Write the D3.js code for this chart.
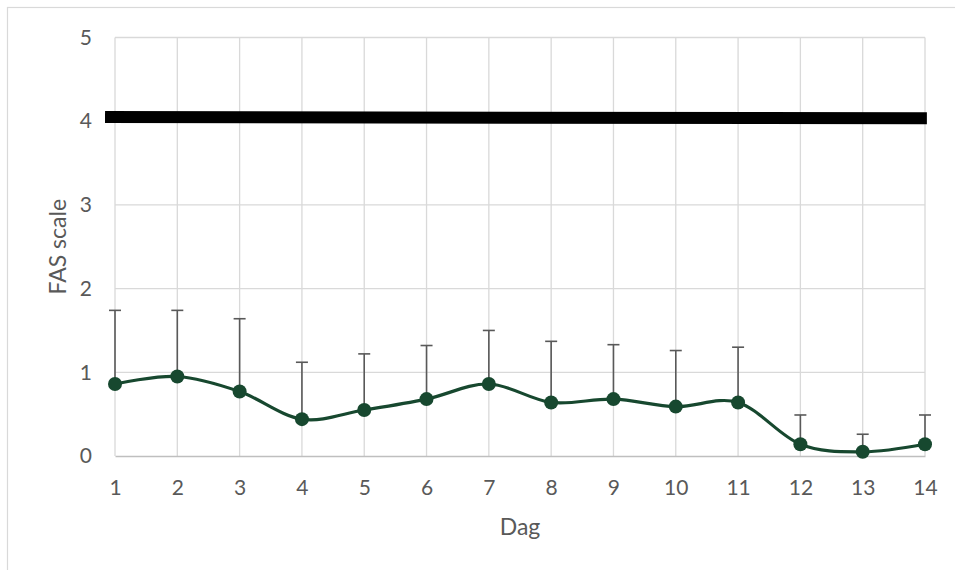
<!DOCTYPE html>
<html>
<head>
<meta charset="utf-8">
<script src="https://cdn.jsdelivr.net/npm/d3@7"></script>
<style>
  html, body { margin: 0; padding: 0; background: #fff; }
  svg { display: block; font-family: "Lato", "Open Sans", sans-serif; }
</style>
</head>
<body>
<svg id="chart" width="955" height="570"></svg>
<script>
// Days on the x axis
const days = [1, 2, 3, 4, 5, 6, 7, 8, 9, 10, 11, 12, 13, 14];
// Mean FAS score per day
const meanFAS = [0.86, 0.95, 0.77, 0.44, 0.55, 0.68, 0.86, 0.64, 0.68, 0.59, 0.64, 0.14, 0.05, 0.14];
// Upper error (mean + SD) per day
const upperFAS = [1.74, 1.74, 1.64, 1.12, 1.22, 1.32, 1.50, 1.37, 1.33, 1.26, 1.30, 0.49, 0.26, 0.49];
// Threshold line: x extent and y values at both ends
const thresholdX = [0.84, 14.03];
const thresholdY = [4.05, 4.035];
// Axis ticks
const yTicks = [0, 1, 2, 3, 4, 5];

const svg = d3.select("#chart");

const x = d3.scaleLinear().domain([1, 14]).range([115, 925]);
const y = d3.scaleLinear().domain([0, 5]).range([456, 37.5]);

// Chart frame
svg.append("rect")
  .attr("x", 7.5).attr("y", 7.5)
  .attr("width", 1000).attr("height", 1000)
  .attr("fill", "none").attr("stroke", "#d9d9d9").attr("stroke-width", 1.2);

const grid = svg.append("g");
// Horizontal gridlines
grid.selectAll("line.h").data(yTicks.filter(d => d > 0)).join("line")
  .attr("x1", x(1)).attr("x2", x(14))
  .attr("y1", d => y(d)).attr("y2", d => y(d))
  .attr("stroke", "#d9d9d9").attr("stroke-width", 1.3);
// Vertical gridlines
grid.selectAll("line.v").data(days).join("line")
  .attr("x1", d => x(d)).attr("x2", d => x(d))
  .attr("y1", y(5)).attr("y2", y(0))
  .attr("stroke", "#d9d9d9").attr("stroke-width", 1.3);

// X axis (baseline + tick labels)
const xAxis = d3.axisBottom(x).tickValues(days).tickSize(0).tickPadding(24).tickFormat(d3.format("d"));
const gx = svg.append("g").attr("transform", `translate(0,${y(0)})`).call(xAxis);
gx.select(".domain").attr("stroke", "#bfbfbf").attr("stroke-width", 1.3);
gx.selectAll("text").attr("fill", "#595959").attr("font-size", 21).attr("font-family", "Lato, sans-serif");

// Y axis labels
const yAxis = d3.axisLeft(y).tickValues(yTicks).tickSize(0).tickPadding(23).tickFormat(d3.format("d"));
const gy = svg.append("g").attr("transform", `translate(${x(1)},0)`).call(yAxis);
gy.select(".domain").remove();
gy.selectAll("text").attr("fill", "#595959").attr("font-size", 21).attr("font-family", "Lato, sans-serif");

// Axis titles
svg.append("text")
  .attr("x", (x(1) + x(14)) / 2).attr("y", 535)
  .attr("text-anchor", "middle").attr("fill", "#595959").attr("font-size", 23)
  .text("Dag");
svg.append("text")
  .attr("transform", `translate(66,${(y(0) + y(5)) / 2}) rotate(-90)`)
  .attr("text-anchor", "middle").attr("fill", "#595959").attr("font-size", 23)
  .text("FAS scale");

// Threshold line
svg.append("line")
  .attr("x1", x(thresholdX[0])).attr("x2", x(thresholdX[1]))
  .attr("y1", y(thresholdY[0])).attr("y2", y(thresholdY[1]))
  .attr("stroke", "#000").attr("stroke-width", 12);

// Error bars (plus direction)
const eb = svg.append("g").attr("stroke", "#595959").attr("stroke-width", 1.6);
eb.selectAll("line.bar").data(days).join("line")
  .attr("x1", d => x(d)).attr("x2", d => x(d))
  .attr("y1", (d, i) => y(meanFAS[i])).attr("y2", (d, i) => y(upperFAS[i]));
eb.selectAll("line.cap").data(days).join("line")
  .attr("x1", d => x(d) - 6).attr("x2", d => x(d) + 6)
  .attr("y1", (d, i) => y(upperFAS[i])).attr("y2", (d, i) => y(upperFAS[i]));

// Smoothed mean line
const pts = days.map((d, i) => [d, meanFAS[i]]);
const line = d3.line().x(d => x(d[0])).y(d => y(d[1])).curve(d3.curveCardinal.tension(0));
svg.append("path").datum(pts)
  .attr("d", line).attr("fill", "none")
  .attr("stroke", "#17482f").attr("stroke-width", 3.2);

// Markers
svg.selectAll("circle.pt").data(pts).join("circle")
  .attr("cx", d => x(d[0])).attr("cy", d => y(d[1])).attr("r", 7)
  .attr("fill", "#17482f");
</script>
</body>
</html>
